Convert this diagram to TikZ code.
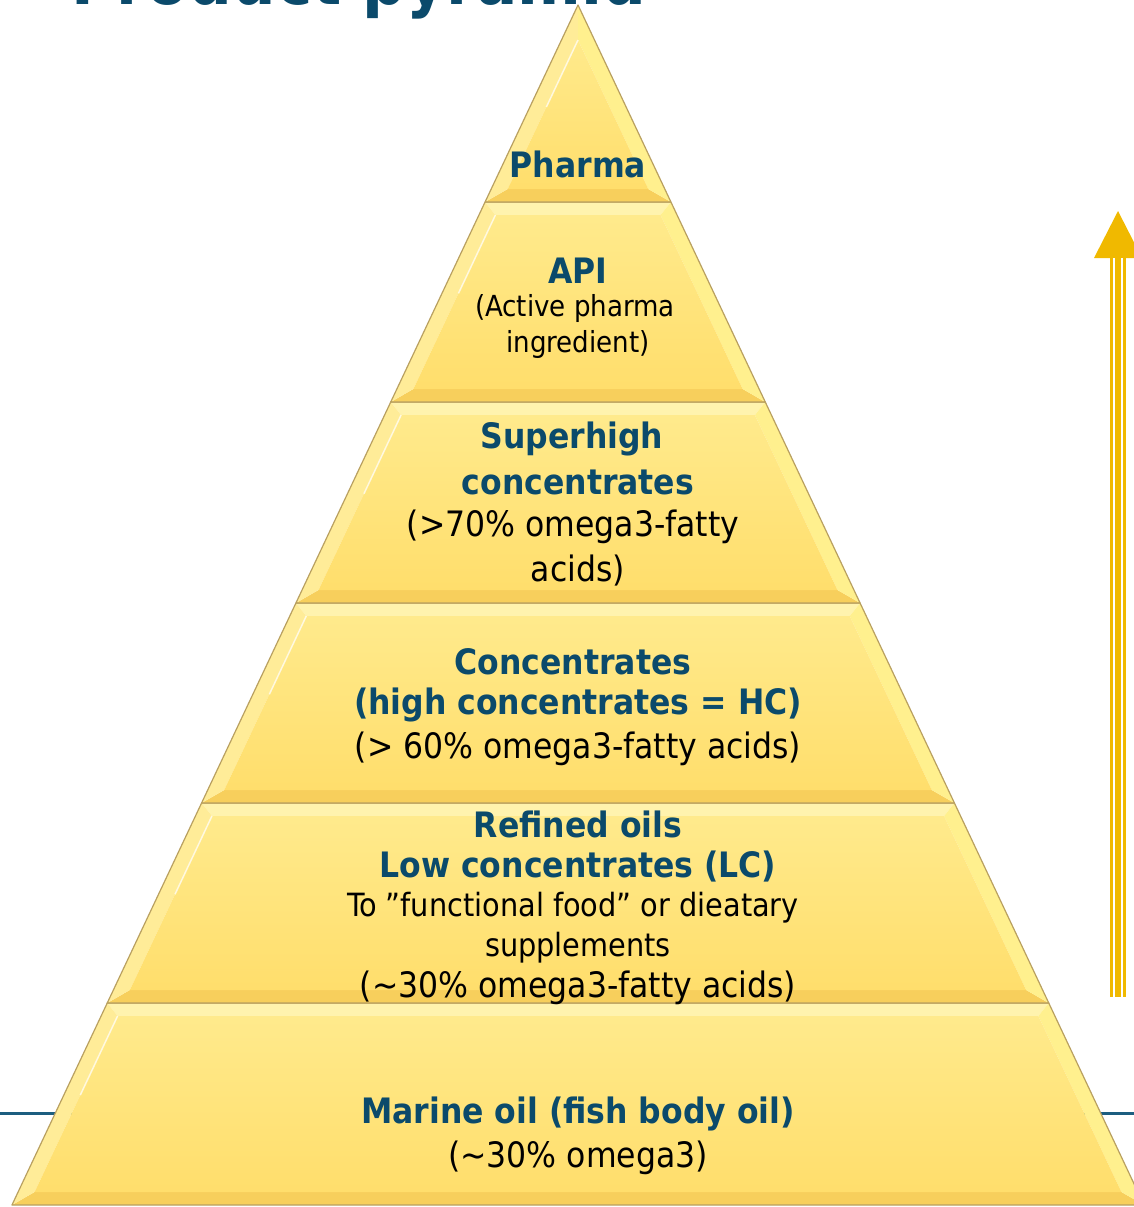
\documentclass[tikz,border=0pt]{standalone}
\usepackage{fontspec}
\setmainfont{DejaVu Sans Condensed}
\usetikzlibrary{calc}
\definecolor{ttl}{HTML}{0B4A6B}
\definecolor{arrowc}{HTML}{F0B900}
\definecolor{bandtop}{HTML}{FFEA8C}
\definecolor{bandbot}{HTML}{FFDE6C}
\definecolor{bevleft}{HTML}{FFEC98}
\definecolor{bevright}{HTML}{FFF08E}
\definecolor{bevtopc}{HTML}{FFF3AE}
\definecolor{bevbot}{HTML}{F7CF5C}
\definecolor{edgec}{HTML}{B9A060}
\definecolor{linec}{HTML}{1D5E80}
\tikzset{
  bluebold/.style={text=ttl,font=\bfseries\fontsize{35}{42}\selectfont,inner sep=0pt},
  blacktext/.style={text=black,font=\fontsize{35}{42}\selectfont,inner sep=0pt},
  smalltext/.style={text=black,font=\fontsize{29}{35}\selectfont,inner sep=0pt},
  midtext/.style={text=black,font=\fontsize{32}{38}\selectfont,inner sep=0pt},
}
\newcommand\pyrband[2]{%
  \pgfmathsetmacro\wa{0.4717*(#1-5)}%
  \pgfmathsetmacro\wb{0.4717*(#2-5)}%
  \pgfmathsetmacro\yi{max(#1+13,40)}%
  \pgfmathsetmacro\yj{#2-13}%
  \pgfmathsetmacro\wi{max(0.4717*(\yi-5)-16.5,0)}%
  \pgfmathsetmacro\wj{0.4717*(\yj-5)-16.5}%
  \fill[bevtopc] (578-\wa,#1) -- (578+\wa,#1) -- (578+\wi,\yi) -- (578-\wi,\yi) -- cycle;
  \fill[bevbot] (578-\wb,#2) -- (578+\wb,#2) -- (578+\wj,\yj) -- (578-\wj,\yj) -- cycle;
  \fill[bevleft] (578-\wa,#1) -- (578-\wi,\yi) -- (578-\wj,\yj) -- (578-\wb,#2) -- cycle;
  \fill[bevright] (578+\wa,#1) -- (578+\wi,\yi) -- (578+\wj,\yj) -- (578+\wb,#2) -- cycle;
  \shade[top color=bandtop,bottom color=bandbot] (578-\wi,\yi) -- (578+\wi,\yi) -- (578+\wj,\yj) -- (578-\wj,\yj) -- cycle;
  \draw[white,opacity=0.7,line width=1.5pt] (578-\wi,\yi) -- ($(578-\wi,\yi)!0.45!(578-\wj,\yj)$);
  \draw[edgec,line width=1.2pt,line join=round] (578-\wa,#1) -- (578+\wa,#1) -- (578+\wb,#2) -- (578-\wb,#2) -- cycle;
}
\begin{document}
\begin{tikzpicture}[x=1pt,y=-1pt]
\useasboundingbox (0,0) rectangle (1134,1207);
\clip (0,0) rectangle (1134,1207);
% title (cut off at top)
\node[text=ttl,font=\bfseries\fontsize{68}{74}\selectfont,inner sep=0pt,anchor=base] (title) at (359,5) {Product pyramid};
% horizontal rule behind the pyramid
\draw[linec,line width=3pt] (0,1113) -- (1134,1113);
% arrow
\fill[arrowc] (1094,258) -- (1118,211) -- (1142,258) -- cycle;
\fill[arrowc] (1110,258) rectangle (1126,997);
\fill[white] (1113,258) rectangle (1115,997);
\fill[white] (1121,258) rectangle (1123,997);
% pyramid bands
\pyrband{1003}{1205}
\pyrband{803}{1003}
\pyrband{603}{803}
\pyrband{402}{603}
\pyrband{202}{402}
\pyrband{5}{202}
% texts
\node[bluebold] (pharma) at (578,164) {Pharma};
\node[bluebold] (api) at (578,271) {API};
\node[smalltext] (api2) at (575,308) {(Active pharma};
\node[smalltext] (api3) at (578,344) {ingredient)};
\node[bluebold] (sh1) at (572,439) {Superhigh};
\node[bluebold] (sh2) at (578,482) {concentrates};
\node[blacktext] (sh3) at (573,527) {(>70\% omega3-fatty};
\node[blacktext] (sh4) at (578,571) {acids)};
\node[bluebold] (hc1) at (573,662) {Concentrates};
\node[bluebold] (hc2) at (578,705) {(high concentrates = HC)};
\node[blacktext] (hc3) at (578,749) {(> 60\% omega3-fatty acids)};
\node[bluebold] (lc1) at (578,824) {Refined oils};
\node[bluebold] (lc2) at (578,867) {Low concentrates (LC)};
\node[midtext] (lc3) at (573,908) {To ”functional food” or dieatary};
\node[midtext] (lc4) at (578,948) {supplements};
\node[blacktext] (lc5) at (578,988) {(\textasciitilde30\% omega3-fatty acids)};
\node[bluebold] (mo1) at (578,1114) {Marine oil (fish body oil)};
\node[blacktext] (mo2) at (578,1158) {(\textasciitilde30\% omega3)};
\end{tikzpicture}
\end{document}
